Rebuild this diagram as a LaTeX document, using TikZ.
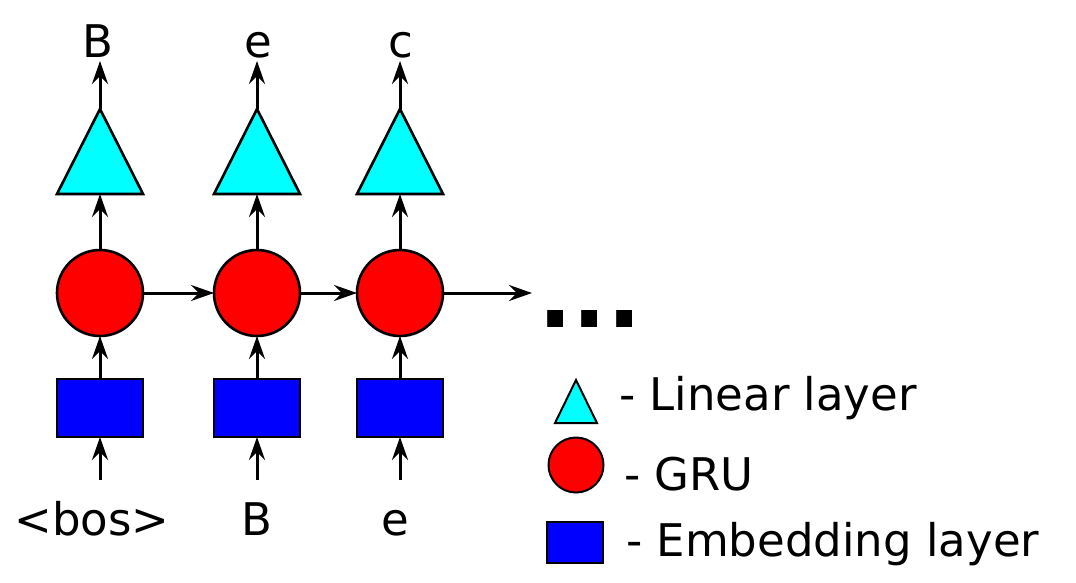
\documentclass[tikz,border=0pt]{standalone}
\usepackage{fontspec}
\setmainfont{DejaVu Sans}
\usetikzlibrary{arrows.meta,shapes.geometric}
\definecolor{lincyan}{RGB}{0,255,255}
\definecolor{grured}{RGB}{255,0,0}
\definecolor{embblue}{RGB}{0,0,255}
\begin{document}
\begin{tikzpicture}[x=1pt,y=-1pt,
  lin/.style={isosceles triangle, isosceles triangle stretches, shape border rotate=90,
    minimum width=86pt, minimum height=85pt, inner sep=0pt, outer sep=0pt, draw=black, line width=2.6pt, fill=lincyan, anchor=apex},
  gru/.style={circle, minimum size=86pt, inner sep=0pt, outer sep=0pt, draw=black, line width=2.6pt, fill=grured},
  emb/.style={rectangle, minimum width=86pt, minimum height=58pt, inner sep=0pt, outer sep=0pt, draw=black, line width=2.6pt, fill=embblue},
  lab/.style={font=\fontsize{45}{54}\selectfont, inner sep=0pt, anchor=base},
  arr/.style={line width=3pt, -{Stealth[length=23pt,width=16pt,inset=8pt]}}]
\useasboundingbox (0,0) rectangle (1076,582);

\foreach \i/\x in {1/100,2/257,3/400}{
  \node[lin] (t\i) at (\x,109) {};
  \node[gru] (c\i) at (\x,293) {};
  \node[emb] (e\i) at (\x,408) {};
  \coordinate (o\i) at (\x,61);
  \coordinate (s\i) at (\x,480);
}
\coordinate (h) at (532,293);

\node[lab] (y1) at (98,57) {B};
\node[lab] (y2) at (258,57) {e};
\node[lab] (y3) at (401,57) {c};
\node[lab] (x1) at (92,535.5) {<bos>};
\node[lab] (x2) at (257,535.5) {B};
\node[lab] (x3) at (395,535.5) {e};

\foreach \i in {1,2,3}{
  \draw[arr] (s\i) -- (e\i.south);
  \draw[arr] (e\i.north) -- (c\i.south);
  \draw[arr] (c\i.north) -- (c\i.north |- t\i.left corner);
  \draw[arr] (t\i.apex) -- (o\i);
}
\draw[arr] (c1.east) -- (c2.west);
\draw[arr] (c2.east) -- (c3.west);
\draw[arr] (c3.east) -- (h);

\node[font=\fontsize{90}{100}\selectfont\bfseries, inner sep=0pt, anchor=base] (dots) at (590,327) {...};

\node[lin, minimum width=42pt, minimum height=43pt, line width=2pt] (lt) at (576,380) {};
\node[gru, minimum size=55pt, line width=2pt] (lc) at (576,465) {};
\node[emb, minimum width=56pt, minimum height=41pt, line width=2pt] (le) at (575,542.5) {};
\node[lab, anchor=base west] (l1) at (619,410) {- Linear layer};
\node[lab, anchor=base west] (l2) at (624,490) {- GRU};
\node[lab, anchor=base west] (l3) at (626,556) {- Embedding layer};
\end{tikzpicture}
\end{document}
